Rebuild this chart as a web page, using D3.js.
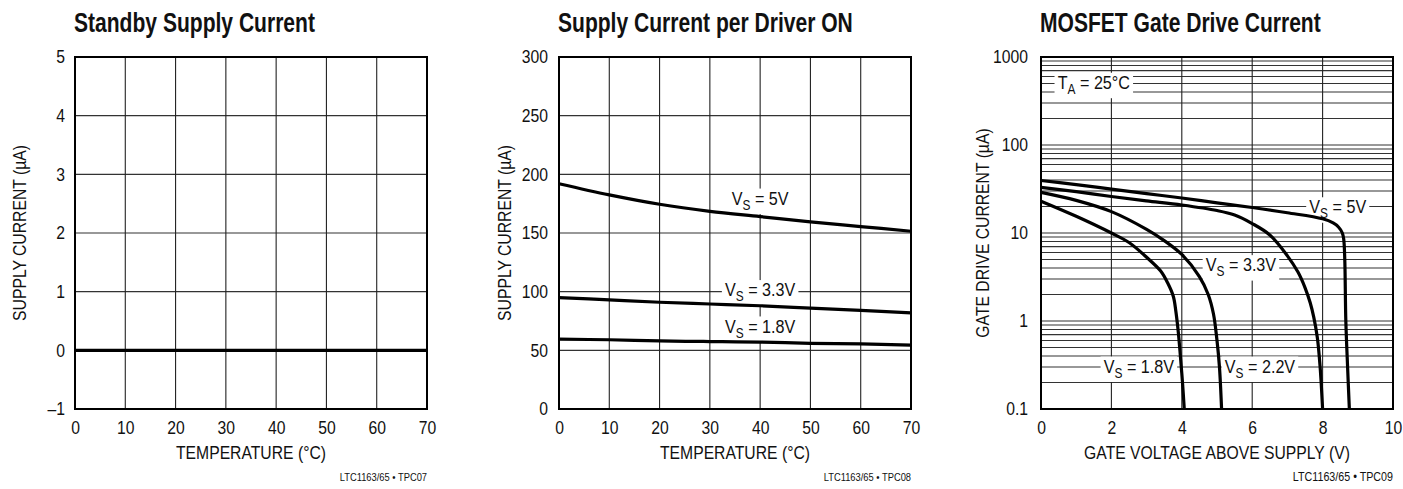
<!DOCTYPE html>
<html>
<head>
<meta charset="utf-8">
<script src="https://cdn.jsdelivr.net/npm/d3@7"></script>
<style>
  body { margin: 0; background: #fff; }
  text { font-family: "Liberation Sans", Arial, Helvetica, sans-serif; fill: #111; }
</style>
</head>
<body>
<svg id="chart" width="1403" height="489"></svg>
<script>
// --- data ---
const tempTicks = [0, 10, 20, 30, 40, 50, 60, 70];

// Standby Supply Current (uA) vs temperature
const standbyTemp = [0, 10, 20, 30, 40, 50, 60, 70];
const standbyCurrent = [0, 0, 0, 0, 0, 0, 0, 0];
const standbyTicks = [-1, 0, 1, 2, 3, 4, 5];

// Supply Current per Driver ON (uA) vs temperature
const driverTemp = [0, 10, 20, 30, 40, 50, 60, 70];
const driver5V = [192, 182.5, 174.5, 168.5, 164, 159.5, 155.5, 151.5];
const driver33V = [95, 93, 91, 89.5, 88, 86, 84, 82];
const driver18V = [59.5, 59, 58, 57.5, 57, 56, 55.5, 54.5];
const driverTicks = [0, 50, 100, 150, 200, 250, 300];

// MOSFET Gate Drive Current (uA) vs gate voltage above supply
const gateTicksX = [0, 2, 4, 6, 8, 10];
const gateTicksY = [0.1, 1, 10, 100, 1000];
const gate5V_v = [0, 1, 2, 3, 4, 5, 6, 7, 8, 8.3, 8.45, 8.56, 8.6, 8.63, 8.66, 8.71, 8.76];
const gate5V_i = [39.5, 35.5, 31.5, 28, 25, 22, 19.5, 17, 14.5, 13, 11.7, 10, 8.5, 5, 1, 0.3, 0.1];
const gate33V_v = [0, 1, 2, 3, 4, 5, 5.5, 6, 6.5, 7, 7.3, 7.5, 7.65, 7.75, 7.85, 7.93, 8.0];
const gate33V_i = [33, 29.5, 26, 23.2, 20.8, 18, 16, 12.8, 9.5, 5.5, 3.6, 2.4, 1.6, 1.1, 0.65, 0.3, 0.1];
const gate22V_v = [0, 1, 2, 3, 3.5, 4, 4.5, 4.75, 4.9, 5.0, 5.07, 5.13];
const gate22V_i = [29, 23.5, 17.5, 11, 8.2, 5.7, 3.2, 2.0, 1.2, 0.6, 0.3, 0.1];
const gate18V_v = [0, 1, 2, 2.5, 3, 3.4, 3.6, 3.76, 3.83, 3.9, 3.96, 4.02, 4.07];
const gate18V_i = [23, 15.5, 10, 7.8, 5.3, 3.7, 2.7, 1.9, 1.3, 0.75, 0.4, 0.2, 0.1];

const zip = (xs, ys) => xs.map((x, i) => [x, ys[i]]);

const svg = d3.select('#chart');
const size = 352;
const plotTop = 57;
const narrow = 0.85;      // condensed look for the regular text
const narrowBold = 0.78;  // titles

// squeeze text horizontally around its anchor
function squeeze(sel, sx, origin) {
  sel.style('transform-box', 'fill-box')
    .style('transform-origin', origin)
    .style('transform', `scaleX(${sx})`);
}

function drawPanel(cfg) {
  const g = svg.append('g').attr('transform', `translate(${cfg.left},${plotTop})`);
  const x = d3.scaleLinear().domain(cfg.xDomain).range([0, size]);
  const y = (cfg.log ? d3.scaleLog() : d3.scaleLinear()).domain(cfg.yDomain).range([size, 0]);

  // title
  svg.append('text')
    .attr('x', cfg.left - 1).attr('y', 32)
    .attr('font-size', 27).attr('font-weight', 'bold').attr('fill', '#000')
    .text(cfg.title)
    .call(squeeze, narrowBold, 'left');

  // grid
  const gridY = cfg.log ? y.ticks() : cfg.yTicks;
  g.append('g').selectAll('line').data(gridY).enter().append('line')
    .attr('x1', 0).attr('x2', size)
    .attr('y1', d => y(d)).attr('y2', d => y(d))
    .attr('stroke', '#333').attr('stroke-width', 1.1);
  g.append('g').selectAll('line').data(cfg.xTicks).enter().append('line')
    .attr('y1', 0).attr('y2', size)
    .attr('x1', d => x(d)).attr('x2', d => x(d))
    .attr('stroke', '#222').attr('stroke-width', 1.1);

  // annotations with white boxes
  (cfg.notes || []).forEach(n => {
    const cx = x(n.x);
    const t = g.append('text')
      .attr('x', cx).attr('y', y(n.y) + 7)
      .attr('text-anchor', 'middle')
      .attr('font-size', 19);
    t.append('tspan').text(n.main);
    t.append('tspan').attr('font-size', 14).attr('dy', 5).text(n.sub);
    t.append('tspan').attr('dy', -5).text(n.rest);
    t.call(squeeze, narrow, 'center');
    const bb = t.node().getBBox();
    const w = bb.width * narrow + 6;
    g.insert('rect', () => t.node())
      .attr('x', cx - w / 2).attr('y', bb.y + 1)
      .attr('width', w).attr('height', bb.height)
      .attr('fill', '#fff');
  });

  // curves
  const line = d3.line().x(d => x(d[0])).y(d => y(d[1])).curve(d3.curveCatmullRom.alpha(0.5));
  cfg.series.forEach(s => {
    g.append('path').datum(s)
      .attr('fill', 'none').attr('stroke', '#000')
      .attr('stroke-width', 3.2).attr('stroke-linejoin', 'round')
      .attr('d', line);
  });

  // frame
  g.append('rect').attr('width', size).attr('height', size)
    .attr('fill', 'none').attr('stroke', '#000').attr('stroke-width', 2);

  // axes
  const xAxis = g.append('g').attr('transform', `translate(0,${size})`)
    .call(d3.axisBottom(x).tickValues(cfg.xTicks).tickSize(0).tickPadding(12));
  const yAxis = g.append('g')
    .call(d3.axisLeft(y).tickValues(cfg.yTicks).tickSize(0).tickPadding(cfg.yPad)
      .tickFormat(cfg.yFormat));
  [xAxis, yAxis].forEach(a => {
    a.select('.domain').remove();
    a.attr('font-family', null).attr('font-size', null);
    a.selectAll('text').attr('font-size', 18.5).attr('fill', '#111');
  });
  xAxis.selectAll('text').call(squeeze, narrow, 'center');
  yAxis.selectAll('text').call(squeeze, narrow, 'right');

  // axis titles
  g.append('text')
    .attr('x', size / 2).attr('y', size + 50)
    .attr('text-anchor', 'middle').attr('font-size', 18.5)
    .text(cfg.xLabel)
    .call(squeeze, narrow, 'center');
  g.append('text')
    .attr('transform', `translate(${cfg.yLabelX},${size / 2}) rotate(-90) scale(${narrow},1)`)
    .attr('text-anchor', 'middle').attr('font-size', 18.5)
    .text(cfg.yLabel);

  // figure id
  g.append('text')
    .attr('x', size).attr('y', size + 72)
    .attr('text-anchor', 'end').attr('font-size', cfg.idSize)
    .text(cfg.id)
    .call(squeeze, narrow, 'right');
}

const tempLabel = 'TEMPERATURE (°C)';
const fmtDash = d => d < 0 ? '–' + Math.abs(d) : String(d);

drawPanel({
  left: 75,
  title: 'Standby Supply Current',
  xDomain: [0, 70], yDomain: [-1, 5],
  xTicks: tempTicks, yTicks: standbyTicks, yFormat: fmtDash, yPad: 10,
  xLabel: tempLabel, yLabel: 'SUPPLY CURRENT (µA)', yLabelX: -49,
  id: 'LTC1163/65 • TPC07', idSize: 11,
  series: [zip(standbyTemp, standbyCurrent)]
});

drawPanel({
  left: 559,
  title: 'Supply Current per Driver ON',
  xDomain: [0, 70], yDomain: [0, 300],
  xTicks: tempTicks, yTicks: driverTicks, yFormat: fmtDash, yPad: 11,
  xLabel: tempLabel, yLabel: 'SUPPLY CURRENT (µA)', yLabelX: -48,
  id: 'LTC1163/65 • TPC08', idSize: 11,
  series: [zip(driverTemp, driver5V), zip(driverTemp, driver33V), zip(driverTemp, driver18V)],
  notes: [
    { x: 40, y: 180, main: 'V', sub: 'S', rest: ' = 5V' },
    { x: 40, y: 102, main: 'V', sub: 'S', rest: ' = 3.3V' },
    { x: 40, y: 71, main: 'V', sub: 'S', rest: ' = 1.8V' }
  ]
});

drawPanel({
  left: 1041, log: true,
  title: 'MOSFET Gate Drive Current',
  xDomain: [0, 10], yDomain: [0.1, 1000],
  xTicks: gateTicksX, yTicks: gateTicksY, yFormat: d => String(d), yPad: 13,
  xLabel: 'GATE VOLTAGE ABOVE SUPPLY (V)', yLabel: 'GATE DRIVE CURRENT (µA)', yLabelX: -52,
  id: 'LTC1163/65 • TPC09', idSize: 12.6,
  series: [zip(gate5V_v, gate5V_i), zip(gate33V_v, gate33V_i), zip(gate22V_v, gate22V_i), zip(gate18V_v, gate18V_i)],
  notes: [
    { x: 1.5, y: 520, main: 'T', sub: 'A', rest: ' = 25°C' },
    { x: 8.43, y: 20, main: 'V', sub: 'S', rest: ' = 5V' },
    { x: 5.68, y: 4.4, main: 'V', sub: 'S', rest: ' = 3.3V' },
    { x: 2.78, y: 0.31, main: 'V', sub: 'S', rest: ' = 1.8V' },
    { x: 6.22, y: 0.31, main: 'V', sub: 'S', rest: ' = 2.2V' }
  ]
});
</script>
</body>
</html>
